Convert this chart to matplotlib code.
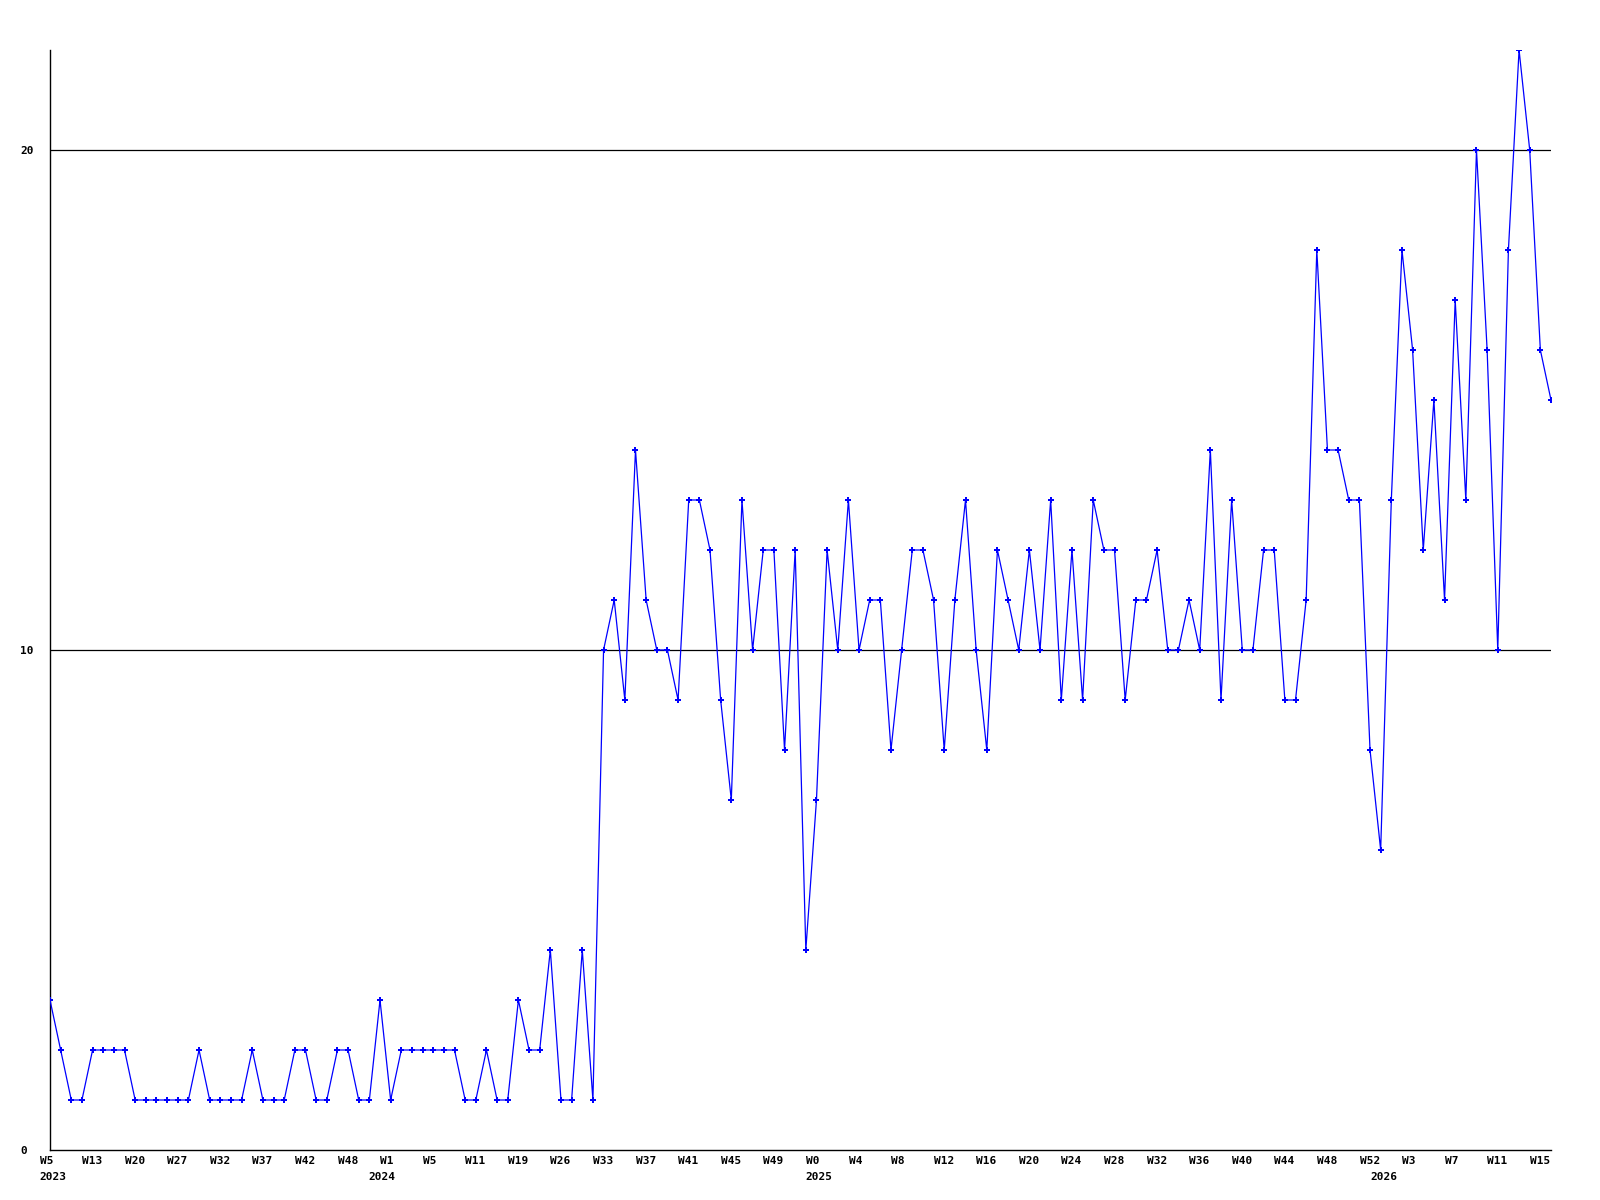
import matplotlib
matplotlib.use("Agg")
import matplotlib.pyplot as plt
import matplotlib.transforms as mtransforms

# weekly values, one per point
values = [3, 2, 1, 1, 2, 2, 2, 2, 1, 1,
          1, 1, 1, 1, 2, 1, 1, 1, 1, 2,
          1, 1, 1, 2, 2, 1, 1, 2, 2, 1,
          1, 3, 1, 2, 2, 2, 2, 2, 2, 1,
          1, 2, 1, 1, 3, 2, 2, 4, 1, 1, 4, 1,
          10, 11, 9, 14, 11, 10, 10, 9, 13, 13,
          12, 9, 7, 13, 10, 12, 12, 8, 12, 4,
          7, 12, 10, 13, 10, 11, 11,
          8, 10, 12, 12, 11, 8, 11, 13, 10, 8,
          12, 11, 10, 12, 10, 13, 9, 12, 9, 13,
          12, 12, 9, 11, 11, 12, 10, 10, 11, 10,
          14, 9, 13, 10, 10, 12, 12, 9, 9, 11,
          18, 14, 14, 13, 13, 8, 6, 13, 18, 16,
          12, 15, 11, 17, 13, 20, 16, 10, 18, 22,
          20, 16, 15]

# one label every 4 points
week_labels = ["W5", "W13", "W20", "W27", "W32", "W37", "W42", "W48",
               "W1", "W5", "W11", "W19", "W26", "W33", "W37", "W41", "W45", "W49",
               "W0", "W4", "W8", "W12", "W16", "W20", "W24", "W28", "W32", "W36",
               "W40", "W44", "W48", "W52", "W3", "W7", "W11", "W15"]
year_labels = ["2023", "2024", "2025", "2026"]
year_pos = [0.3, 31.2, 72.2, 125.3]

y_ticks = [0, 10, 20]

x = list(range(len(values)))

fig = plt.figure(figsize=(16, 12), dpi=100)
ax = fig.add_axes([50 / 1600, 50 / 1200, 1501 / 1600, 1100 / 1200])

font = dict(family="DejaVu Sans Mono", weight="bold", size=8)

ax.plot(x, values, color="#0000ff", linewidth=0.9, marker="P",
        markersize=3.8, markeredgewidth=0, zorder=3)

for v in y_ticks[1:]:
    ax.axhline(v, color="black", linewidth=0.9, zorder=1)

ax.set_xlim(0, len(values) - 1)
ax.set_ylim(0, 22)

ax.spines["top"].set_visible(False)
ax.spines["right"].set_visible(False)
ax.spines["left"].set_linewidth(1)
ax.spines["bottom"].set_linewidth(1)

ax.set_yticks(y_ticks)
ax.set_yticklabels([str(v) for v in y_ticks], fontdict=font)
ax.tick_params(axis="y", length=0, pad=21.6)
for lab in ax.get_yticklabels():
    lab.set_horizontalalignment("left")

ax.set_xticks(x[::4])
ax.set_xticklabels(week_labels, fontdict=font)
ax.tick_params(axis="x", length=0, pad=4)
shift = mtransforms.ScaledTranslation(-10.5 / 100, 0, fig.dpi_scale_trans)
for lab in ax.get_xticklabels():
    lab.set_horizontalalignment("left")
    lab.set_transform(lab.get_transform() + shift)

trans = mtransforms.blended_transform_factory(ax.transData, ax.transAxes)
for lab, pos in zip(year_labels, year_pos):
    ax.text(pos, -27 / 1100, lab, transform=trans, ha="center", va="center",
            **font)

fig.savefig("out.png", dpi=100)
